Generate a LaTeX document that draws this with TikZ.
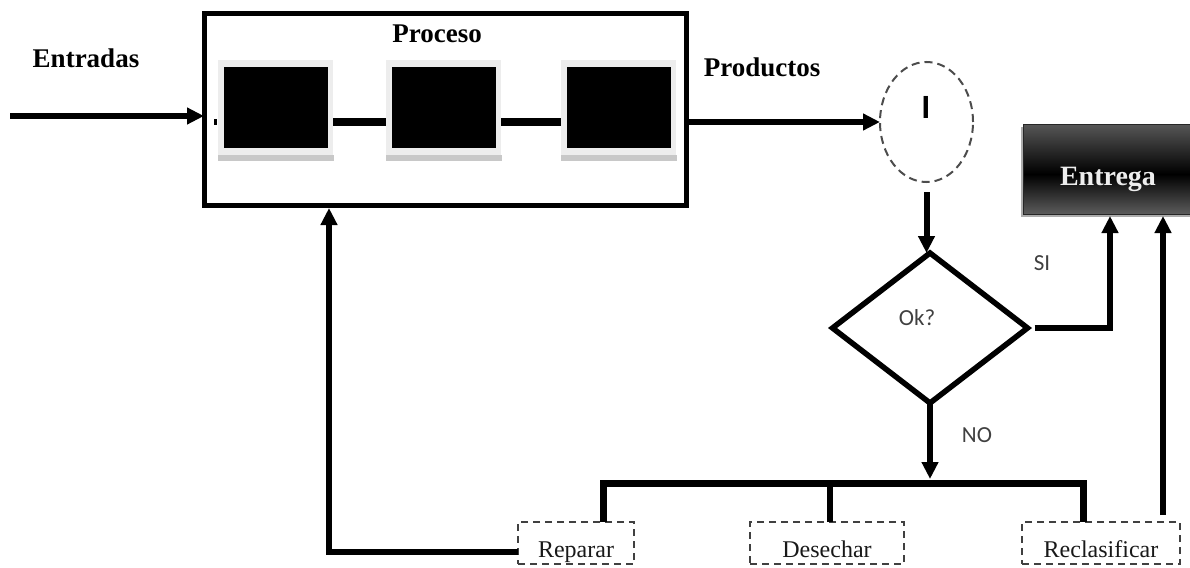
\documentclass[tikz,border=0pt]{standalone}
\usepackage{fontspec}
\setmainfont{Liberation Serif}
\newfontfamily\calibri{Carlito}
\usetikzlibrary{arrows.meta,shapes.geometric}

\definecolor{labelgray}{HTML}{404040}
\definecolor{framegray}{HTML}{EDEDED}
\definecolor{shadowgray}{HTML}{C8C8C8}

\tikzset{
  every node/.style={inner sep=0pt, outer sep=0pt},
  link/.style={line width=6pt},
  flow/.style={line width=6pt, -{Triangle[length=17pt,width=16pt]}},
  heading/.style={font=\bfseries\fontsize{27}{30}\selectfont, anchor=base},
  optbox/.style={draw=black!75, line width=1.7pt, dash pattern=on 7pt off 5pt, minimum height=42pt},
  opttext/.style={font=\fontsize{24}{28}\selectfont, text=black!90, anchor=base},
  tag/.style={font=\calibri\fontsize{23}{26}\selectfont, text=labelgray, anchor=base},
  stage/.style={fill=black, minimum width=104pt, minimum height=81pt},
  stageframe/.style={fill=framegray, minimum width=115pt, minimum height=95pt},
  stageshadow/.style={fill=shadowgray, minimum width=116pt, minimum height=6pt},
}

\begin{document}
\begin{tikzpicture}[x=1pt, y=-1pt]
\useasboundingbox (0,0) rectangle (1190,567);
\clip (0,0) rectangle (1190,567);

% ---- process block with its three stages ----
\node[draw, line width=5pt, minimum width=482pt, minimum height=191pt] (proc) at (445,109.5) {};
\node[heading] (proct) at (437,43) {Proceso};

\foreach \i/\cx in {1/275.5, 2/443.5, 3/618.5} {
  \node[stageshadow] (s\i) at (\cx+0.5,157.5) {};
  \node[stageframe] (f\i) at (\cx,107.5) {};
  \node[stage] (b\i) at (\cx,107.5) {};
}
\coordinate (dot) at (215,122);
\fill (dot) ++(-1.5,-2.5) rectangle ++(3,5);
\draw[line width=8pt] (f1.east |- dot) -- (f2.west |- dot);
\draw[line width=8pt] (f2.east |- dot) -- (f3.west |- dot);

% ---- inputs ----
\node[heading] (entt) at (86,68) {Entradas};
\coordinate (in) at (10,116);
\draw[flow] (in) -- (in -| proc.west);

% ---- outputs and inspection ----
\node[heading] (prodt) at (762,77) {Productos};
\node[ellipse, draw=black!70, line width=2pt, dash pattern=on 8pt off 5pt,
      minimum width=93pt, minimum height=120pt] (insp) at (926.5,122) {};
\node[font=\calibri\bfseries\fontsize{34}{36}\selectfont, anchor=base] (inspt) at (926,118) {I};
\draw[flow] (proc.east |- insp.west) -- (insp.west);

\node[diamond, draw, line width=5.5pt, minimum width=195pt, minimum height=150pt] (dec) at (930,328) {};
\node[tag] (dect) at (917,325) {Ok?};
\draw[flow, shorten <=10pt] (insp.south) -- (dec.north -| insp.south);

% ---- delivery: dark box shaded grey-black-grey from top to bottom ----
\node[fill=gray!65, minimum width=170pt, minimum height=90pt] (entsh) at (1106,172) {};
\node[minimum width=170pt, minimum height=90pt] (ent) at (1108,169) {};
\foreach \k in {0,...,89} {
  \pgfmathsetmacro\shadeamt{\k<50 ? 66+34*\k/50 : 100-36*(\k-50)/40}
  \fill[black!\shadeamt] ([yshift=-\k pt]ent.north west) rectangle ([yshift=-\k pt-1.2pt]ent.north east);
}
\draw[black!85, line width=1pt] (ent.north west) rectangle (ent.south east);
\node[font=\bfseries\fontsize{28}{30}\selectfont, text=white!93!black, anchor=base] (entt2) at (1108,185) {Entrega};

\coordinate (siup) at (1110,328);
\draw[flow, shorten <=7pt, shorten >=2pt] (dec.east) -- (siup) -- (siup |- ent.south);
\node[tag] (sit) at (1042,270) {SI};

% ---- rejection branch ----
\coordinate (busL) at (603,483);
\coordinate (busR) at (1083,483);
\draw[flow] (dec.south) -- ([yshift=4pt]dec.south |- busL);
\node[tag] (not) at (977,442) {NO};

\node[optbox, minimum width=116pt] (rep) at (576,543) {};
\node[optbox, minimum width=154pt] (des) at (827,543) {};
\node[optbox, minimum width=158pt] (rec) at (1101,543) {};
\node[opttext] (rept) at (576,557) {Reparar};
\node[opttext] (dest) at (827,557) {Desechar};
\node[opttext] (rect) at (1101,557) {Reclasificar};

\draw[line width=7pt] (rep.north -| busL) -- (busL) -- (busR) -- (rec.north -| busR);
\draw[link] (busL -| 830,0) -- (rep.north -| 830,0);

% reclassified items go to delivery
\draw[flow, shorten <=7pt, shorten >=2pt] (rec.north -| 1163,0) -- (ent.south -| 1163,0);

% repaired items return to the process
\coordinate (fb) at (329,552);
\draw[flow, shorten >=3pt] (fb -| rep.west) -- (fb) -- (fb |- proc.south);
\end{tikzpicture}
\end{document}
